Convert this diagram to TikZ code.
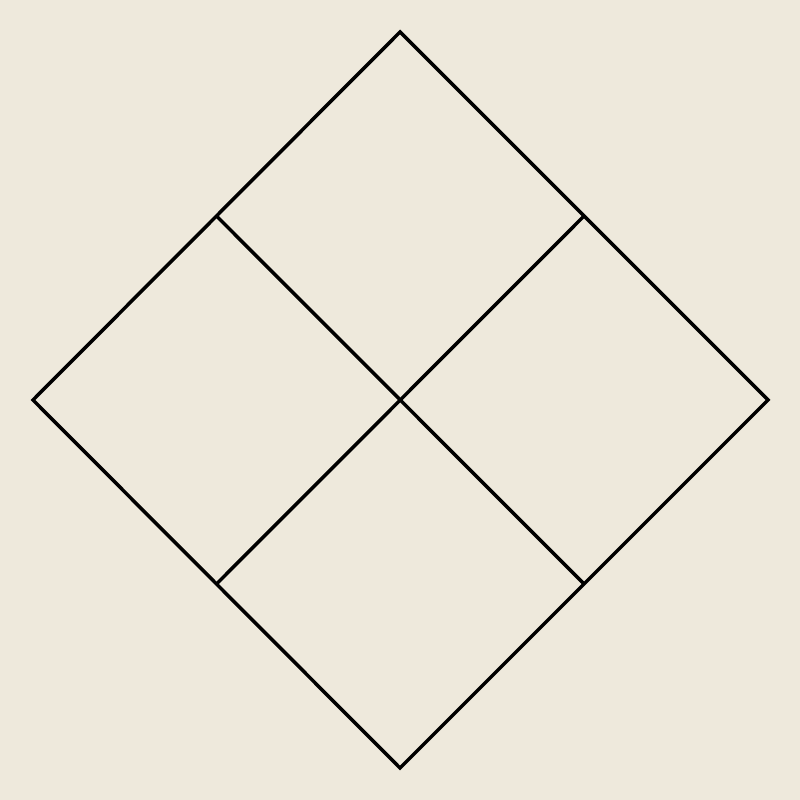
\documentclass[tikz,border=0pt]{standalone}
\definecolor{bg}{HTML}{EEE9DC}
\begin{document}
\begin{tikzpicture}[x=0.01cm,y=0.01cm,
  edge/.style={draw=black,line width=1pt,line join=miter}]
\fill[bg] (0,0) rectangle (800,800);
\useasboundingbox (0,0) rectangle (800,800);
\coordinate (T) at (400,768);
\coordinate (L) at (33,400);
\coordinate (R) at (768,400);
\coordinate (B) at (400,32);
\coordinate (C) at (400,400);
\coordinate (TL) at (216.5,584);
\coordinate (TR) at (584,584);
\coordinate (BL) at (216.5,216);
\coordinate (BR) at (584,216);
\draw[edge] (T) -- (R) -- (B) -- (L) -- cycle;
\draw[edge] (TL) -- (BR);
\draw[edge] (TR) -- (BL);
\end{tikzpicture}
\end{document}
